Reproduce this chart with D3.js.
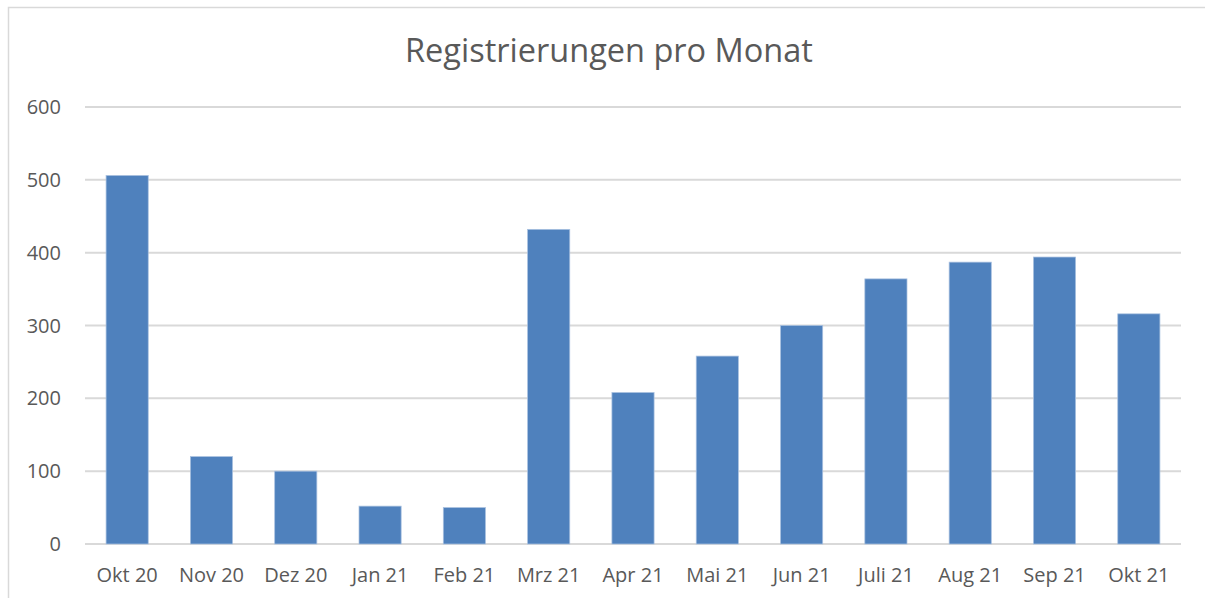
<!DOCTYPE html>
<html>
<head>
<meta charset="utf-8">
<script src="https://cdn.jsdelivr.net/npm/d3@7"></script>
<style>
  body { margin: 0; background: #fff; }
  svg { display: block; }
</style>
</head>
<body>
<script>
let width = 1205,
  height = 598

let months = ['Okt 20', 'Nov 20', 'Dez 20', 'Jan 21', 'Feb 21', 'Mrz 21', 'Apr 21',
  'Mai 21', 'Jun 21', 'Juli 21', 'Aug 21', 'Sep 21', 'Okt 21']
let registrations = [506, 120, 100, 52, 50, 432, 208, 258, 300, 364, 387, 394, 316]
let yTicks = [0, 100, 200, 300, 400, 500, 600]

let font = 'Open Sans, sans-serif'
let textColor = '#595959'

let svg = d3.select('body').append('svg')
  .attr('width', width)
  .attr('height', height)

// chart frame (cut off on the right and bottom)
svg.append('rect')
  .attr('x', 8.5)
  .attr('y', 7.5)
  .attr('width', width + 10)
  .attr('height', height + 10)
  .attr('fill', '#fff')
  .attr('stroke', '#d9d9d9')
  .attr('stroke-width', 1.5)

svg.append('text')
  .attr('x', 609)
  .attr('y', 62)
  .attr('text-anchor', 'middle')
  .attr('font-family', font)
  .attr('font-size', 32.5)
  .attr('fill', textColor)
  .text('Registrierungen pro Monat')

let x = d3.scaleBand()
  .domain(months)
  .range([85, 1181])
  .paddingInner(0.5)
  .paddingOuter(0.25)

let y = d3.scaleLinear()
  .domain([0, 600])
  .range([544, 107])

// gridlines
svg.append('g')
  .selectAll('line')
  .data(yTicks)
  .enter().append('line')
  .attr('x1', 85)
  .attr('x2', 1181)
  .attr('y1', d => y(d))
  .attr('y2', d => y(d))
  .attr('stroke', '#d9d9d9')
  .attr('stroke-width', 2)

// y labels
svg.append('g')
  .selectAll('text')
  .data(yTicks)
  .enter().append('text')
  .attr('x', 61)
  .attr('y', d => y(d))
  .attr('dy', '0.35em')
  .attr('text-anchor', 'end')
  .attr('font-family', font)
  .attr('font-size', 20)
  .attr('fill', textColor)
  .text(d => d)

// bars
svg.append('g')
  .selectAll('rect')
  .data(months)
  .enter().append('rect')
  .attr('x', d => x(d))
  .attr('width', x.bandwidth())
  .attr('y', (d, i) => y(registrations[i]))
  .attr('height', (d, i) => y(0) - y(registrations[i]))
  .attr('fill', '#4f81bd')
  .attr('stroke', '#a9c1e0')
  .attr('stroke-width', 0.75)

// x labels
svg.append('g')
  .selectAll('text')
  .data(months)
  .enter().append('text')
  .attr('x', d => x(d) + x.bandwidth() / 2)
  .attr('y', 582)
  .attr('text-anchor', 'middle')
  .attr('font-family', font)
  .attr('font-size', 20)
  .attr('fill', textColor)
  .text(d => d)
</script>
</body>
</html>
